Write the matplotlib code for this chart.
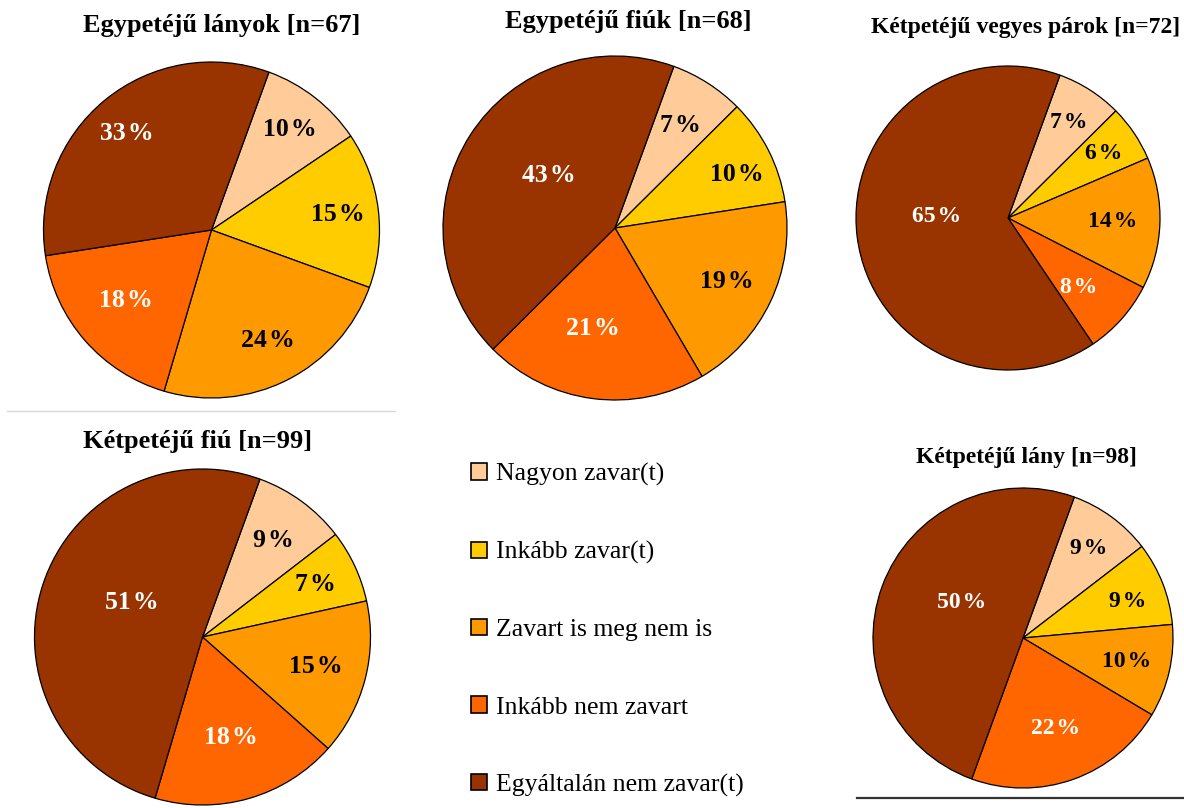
import matplotlib
matplotlib.use('Agg')
import matplotlib.pyplot as plt
from matplotlib.patches import Patch
from matplotlib.lines import Line2D
import numpy as np

plt.rcParams['font.family'] = ['Liberation Serif', 'DejaVu Serif']

# ---------------- data ----------------
categories = ["Nagyon zavar(t)", "Inkább zavar(t)", "Zavart is meg nem is",
              "Inkább nem zavart", "Egyáltalán nem zavar(t)"]
titles = ["Egypetéjű lányok [n=67]", "Egypetéjű fiúk [n=68]",
          "Kétpetéjű vegyes párok [n=72]", "Kétpetéjű fiú [n=99]",
          "Kétpetéjű lány [n=98]"]
egypeteju_lanyok = [10, 15, 24, 18, 33]
egypeteju_fiuk = [7, 10, 19, 21, 43]
ketpeteju_vegyes = [7, 6, 14, 8, 65]
ketpeteju_fiu = [9, 7, 15, 18, 51]
ketpeteju_lany = [9, 9, 10, 22, 50]
series = [egypeteju_lanyok, egypeteju_fiuk, ketpeteju_vegyes,
          ketpeteju_fiu, ketpeteju_lany]

# ---------------- style ----------------
colors = ['#FFCC99', '#FFCC00', '#FF9900', '#FF6600', '#993300']
label_colors = ['black', 'black', 'black', 'white', 'white']

W, H = 1184, 808
fig = plt.figure(figsize=(W / 100, H / 100), dpi=100)

# pixel layout: centre x, centre y, radius, title x, title baseline y,
# title size, label size, label radial distances, label angle shifts (deg)
layout = [
    dict(cx=211.5, cy=230, r=168, tx=222, ty=32, ts=19, ls=18.5,
         ld=[0.76, 0.755, 0.74, 0.66, 0.765], la=[0, 0, 0, -2, 2]),
    dict(cx=615, cy=228, r=172, tx=628, ty=28, ts=19, ls=18.5,
         ld=[0.71, 0.775, 0.72, 0.60, 0.49], la=[0, -3, 0, -5, -6]),
    dict(cx=1008, cy=218, r=152, tx=1026, ty=33, ts=17, ls=17,
         ld=[0.745, 0.76, 0.69, 0.65, 0.47], la=[0, 0, 0, -3, -8]),
    dict(cx=202.5, cy=637, r=168, tx=198, ty=448, ts=19, ls=18.5,
         ld=[0.71, 0.74, 0.70, 0.62, 0.47], la=[0, 0, 0, 0, -8]),
    dict(cx=1023, cy=638, r=150, tx=1026, ty=463, ts=17, ls=17,
         ld=[0.74, 0.74, 0.71, 0.64, 0.47], la=[0, -2, 0, 0, -10]),
]

for vals, title, L in zip(series, titles, layout):
    cx, cy, r = L['cx'], L['cy'], L['r']
    ax = fig.add_axes([(cx - r) / W, 1 - (cy + r) / H, 2 * r / W, 2 * r / H])
    wedges, _ = ax.pie(vals, colors=colors, startangle=70, counterclock=False,
                       radius=1.0,
                       wedgeprops=dict(edgecolor='black', linewidth=0.9))
    ax.set_xlim(-1.0, 1.0)
    ax.set_ylim(-1.0, 1.0)
    ax.set_aspect('equal')
    ax.axis('off')
    for w in wedges:
        w.set_clip_on(False)
    for i, (w, v) in enumerate(zip(wedges, vals)):
        mid = np.deg2rad((w.theta1 + w.theta2) / 2 + L['la'][i])
        d = L['ld'][i]
        ax.text(d * np.cos(mid), d * np.sin(mid), f"{v}\u200a%",
                ha='center', va='center', fontsize=L['ls'],
                fontweight='bold', color=label_colors[i])
    fig.text(L['tx'] / W, 1 - L['ty'] / H, title, ha='center', va='baseline',
             fontsize=L['ts'], fontweight='bold')

# legend
handles = [Patch(facecolor=c, edgecolor='black', linewidth=1.2) for c in colors]
fig.legend(handles, categories, loc='upper left',
           bbox_to_anchor=(471 / W, 1 - 463 / H), frameon=False,
           fontsize=18.5, handlelength=0.62, handleheight=0.6,
           handletextpad=0.35, labelspacing=2.14, borderpad=0,
           borderaxespad=0)

# separator lines
fig.add_artist(Line2D([7 / W, 395 / W], [1 - 411 / H, 1 - 411 / H],
                      transform=fig.transFigure, color='#d9d9d9', lw=1))
fig.add_artist(Line2D([857 / W, 1.0], [1 - 798 / H, 1 - 798 / H],
                      transform=fig.transFigure, color='#333333', lw=1.6))

fig.savefig('out.png', dpi=100)
